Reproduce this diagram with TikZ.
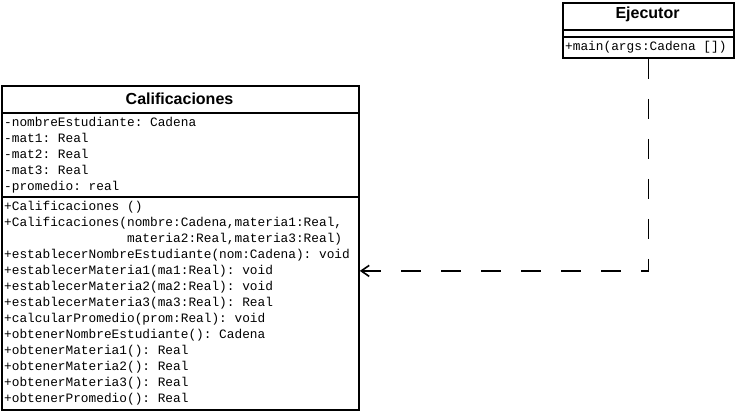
\documentclass[tikz,border=0pt]{standalone}
\usepackage{fontspec}
\setmainfont{Liberation Sans}
\setmonofont{Liberation Mono}
\usetikzlibrary{arrows.meta}
\begin{document}
\begin{tikzpicture}[x=1pt,y=-1pt,
  umlbox/.style={draw,line width=1.8pt,inner sep=0pt,anchor=north west},
  sepline/.style={line width=1.6pt},
  title/.style={font=\fontsize{16}{18}\selectfont\bfseries,inner sep=0pt},
  member/.style={font=\fontsize{12.8}{16}\ttfamily,inner sep=0pt,anchor=base west},
  dep/.style={line width=1.8pt,dash pattern=on 20pt off 20pt,-{Straight Barb[length=8pt,width=11pt,line width=1.6pt]}}]
\useasboundingbox (0,0) rectangle (736,411);
% Ejecutor
\node[umlbox,minimum width=171pt,minimum height=55pt] (ejec) at (562,2) {};
\draw[sepline] (562,30) -- (733,30);
\draw[sepline] (562,37) -- (733,37);
\node[title] (ejt) at (647.5,14.5) {Ejecutor};
\node[member] (ejm) at (565,50.5) {+main(args:Cadena [])};
% Calificaciones
\node[umlbox,minimum width=357pt,minimum height=324pt] (cal) at (1,85) {};
\draw[sepline] (1,113) -- (358,113);
\draw[sepline] (1,197) -- (358,197);
\node[title] (calt) at (179.5,98.5) {Calificaciones};
\node[member] (a1) at (4,126.5) {-nombreEstudiante: Cadena};
\node[member] (a2) at (4,142.5) {-mat1: Real};
\node[member] (a3) at (4,158.5) {-mat2: Real};
\node[member] (a4) at (4,174.5) {-mat3: Real};
\node[member] (a5) at (4,190.5) {-promedio: real};
\node[member] (m1) at (4,210.5) {+Calificaciones ()};
\node[member] (m2) at (4,226.5) {+Calificaciones(nombre:Cadena,materia1:Real,};
\node[member] (m3) at (4,242.5) {\phantom{+Calificaciones(}materia2:Real,materia3:Real)};
\node[member] (m4) at (4,258.5) {+establecerNombreEstudiante(nom:Cadena): void};
\node[member] (m5) at (4,274.5) {+establecerMateria1(ma1:Real): void};
\node[member] (m6) at (4,290.5) {+establecerMateria2(ma2:Real): void};
\node[member] (m7) at (4,306.5) {+establecerMateria3(ma3:Real): Real};
\node[member] (m8) at (4,322.5) {+calcularPromedio(prom:Real): void};
\node[member] (m9) at (4,338.5) {+obtenerNombreEstudiante(): Cadena};
\node[member] (m10) at (4,354.5) {+obtenerMateria1(): Real};
\node[member] (m11) at (4,370.5) {+obtenerMateria2(): Real};
\node[member] (m12) at (4,386.5) {+obtenerMateria3(): Real};
\node[member] (m13) at (4,402.5) {+obtenerPromedio(): Real};
% dependency
\draw[dep] (ejec.south) |- ([yshift=-23pt]cal.east);
\end{tikzpicture}
\end{document}
